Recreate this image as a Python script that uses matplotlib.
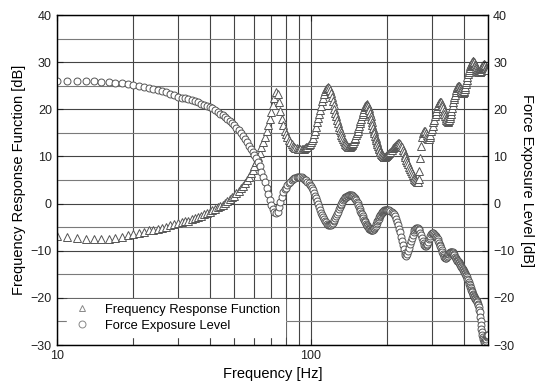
import numpy as np
import matplotlib
matplotlib.use("Agg")
import matplotlib.pyplot as plt
from matplotlib.ticker import LogLocator, NullFormatter, MultipleLocator, FixedLocator, FixedFormatter

plt.rcParams["font.family"] = ["Liberation Sans", "DejaVu Sans"]

# measurement grid: 1 Hz steps up to 200 Hz, 2 Hz steps above
freq = np.concatenate([np.arange(10, 201), np.arange(202, 501, 2)])

# frequency response function [dB]
frf_low = [  # 10 .. 100 Hz
    -6.9, -7.1, -7.3, -7.5, -7.6, -7.6, -7.5, -7.3, -7.0, -6.7,
    -6.4, -6.2, -6.0, -5.7, -5.5, -5.3, -5.1, -4.9, -4.6, -4.4,
    -4.2, -4.0, -3.8, -3.6, -3.3, -3.1, -2.8, -2.6, -2.3, -2.0,
    -1.7, -1.4, -1.1, -0.8, -0.5, -0.2, 0.2, 0.5, 0.9, 1.3,
    1.7, 2.2, 2.7, 3.2, 3.8, 4.4, 5.0, 5.7, 6.4, 7.2,
    8.0, 8.9, 9.8, 10.8, 11.9, 13.0, 14.2, 15.4, 16.7, 18.0,
    19.4, 20.9, 22.4, 23.6, 23.3, 21.5, 19.6, 18.0, 16.6, 15.5,
    14.8, 14.1, 13.5, 13.0, 12.6, 12.3, 12.0, 11.8, 11.7, 11.6,
    11.5, 11.5, 11.5, 11.5, 11.6, 11.7, 11.9, 12.1, 12.4, 12.7,
    13.1,
]
frf_mid = [  # 101 .. 200 Hz
    13.5, 14.0, 14.7, 15.5, 16.3, 17.2, 18.1, 19.0, 19.9, 20.8,
    21.7, 22.5, 23.2, 23.8, 24.3, 24.6, 24.7, 24.5, 24.1, 23.4,
    22.6, 21.8, 20.9, 20.1, 19.3, 18.5, 17.7, 17.0, 16.3, 15.7,
    15.1, 14.6, 14.1, 13.7, 13.3, 13.0, 12.7, 12.5, 12.3, 12.1,
    12.0, 12.0, 12.1, 12.2, 12.4, 12.6, 12.9, 13.2, 13.6, 14.0,
    14.5, 15.0, 15.5, 16.0, 16.5, 17.0, 17.5, 18.0, 18.5, 19.0,
    19.5, 20.0, 20.4, 20.8, 21.0, 21.1, 21.0, 20.7, 20.3, 19.8,
    19.2, 18.6, 17.9, 17.3, 16.6, 16.0, 15.4, 14.9, 14.4, 13.9,
    13.4, 13.0, 12.6, 12.2, 11.8, 11.5, 11.2, 10.9, 10.6, 10.4,
    10.2, 10.1, 10.0, 9.9, 9.9, 9.9, 10.0, 10.1, 10.2, 10.4,
]
frf_high = [  # 202 .. 500 Hz
    10.5, 10.7, 11.0, 11.3, 11.7, 12.0, 12.3, 12.5, 12.7, 12.8,
    12.8, 12.6, 12.3, 11.9, 11.4, 10.9, 10.3, 9.8, 9.3, 8.8,
    8.3, 7.8, 7.4, 6.9, 6.4, 6.0, 5.6, 5.2, 5.0, 4.8,
    4.6, 4.6, 5.3, 7.0, 9.6, 12.3, 14.2, 15.0, 15.2, 15.5,
    15.4, 15.0, 14.5, 14.0, 13.8, 13.8, 14.1, 14.6, 15.3, 15.9,
    16.5, 17.2, 17.8, 18.5, 19.1, 19.7, 20.2, 20.6, 21.0, 21.3,
    21.5, 21.6, 21.5, 21.2, 20.7, 20.2, 19.6, 19.0, 18.5, 18.1,
    17.7, 17.5, 17.4, 17.5, 17.7, 18.1, 18.6, 19.1, 19.7, 20.3,
    20.9, 21.5, 22.1, 22.6, 23.1, 23.6, 24.1, 24.5, 24.7, 24.9,
    25.0, 25.0, 24.8, 24.5, 24.2, 23.9, 23.7, 23.5, 23.5, 23.6,
    23.9, 24.3, 24.8, 25.3, 25.8, 26.3, 26.9, 27.4, 27.9, 28.3,
    28.8, 29.2, 29.4, 29.7, 29.9, 30.1, 30.2, 30.2, 30.1, 30.0,
    29.7, 29.4, 29.1, 28.8, 28.5, 28.2, 28.1, 28.0, 27.9, 27.9,
    27.9, 28.0, 28.2, 28.5, 28.7, 29.0, 29.2, 29.4, 29.5, 29.6,
    29.6, 29.5, 29.3, 29.0, 28.8, 28.6, 28.5, 28.4, 28.4, 28.4,
]

# force exposure level [dB]
fel_low = [  # 10 .. 100 Hz
    26.1, 26.0, 26.0, 25.9, 25.9, 25.8, 25.7, 25.6, 25.5, 25.3,
    25.2, 25.0, 24.8, 24.6, 24.4, 24.1, 23.8, 23.6, 23.3, 23.0,
    22.7, 22.5, 22.3, 22.1, 21.9, 21.7, 21.5, 21.2, 21.0, 20.8,
    20.5, 20.2, 19.9, 19.5, 19.1, 18.7, 18.3, 17.9, 17.5, 17.1,
    16.6, 16.1, 15.6, 15.0, 14.4, 13.7, 13.0, 12.3, 11.6, 10.9,
    10.2, 9.6, 8.9, 7.9, 6.8, 5.7, 4.6, 3.3, 2.0, 0.8,
    -0.3, -1.2, -1.8, -2.1, -1.8, -0.8, 0.4, 1.5, 2.4, 3.0,
    3.4, 3.9, 4.3, 4.6, 4.9, 5.2, 5.4, 5.5, 5.6, 5.7,
    5.7, 5.7, 5.6, 5.5, 5.3, 5.1, 4.9, 4.6, 4.3, 4.0,
    3.7,
]
fel_mid = [  # 101 .. 200 Hz
    3.3, 2.8, 2.3, 1.7, 1.1, 0.5, -0.1, -0.7, -1.3, -1.9,
    -2.4, -2.9, -3.3, -3.7, -4.0, -4.3, -4.5, -4.6, -4.6, -4.5,
    -4.3, -4.1, -3.8, -3.4, -3.0, -2.6, -2.2, -1.7, -1.2, -0.8,
    -0.4, 0.0, 0.4, 0.7, 1.0, 1.2, 1.4, 1.5, 1.6, 1.7,
    1.8, 1.8, 1.8, 1.8, 1.8, 1.7, 1.6, 1.4, 1.2, 1.0,
    0.7, 0.4, 0.1, -0.3, -0.7, -1.1, -1.5, -1.9, -2.3, -2.7,
    -3.1, -3.4, -3.7, -4.0, -4.3, -4.6, -4.8, -5.0, -5.2, -5.3,
    -5.4, -5.5, -5.6, -5.6, -5.6, -5.5, -5.4, -5.2, -5.0, -4.7,
    -4.4, -4.1, -3.8, -3.5, -3.2, -2.9, -2.6, -2.4, -2.2, -2.0,
    -1.8, -1.7, -1.6, -1.5, -1.4, -1.4, -1.4, -1.4, -1.4, -1.4,
]
fel_high = [  # 202 .. 500 Hz
    -1.4, -1.4, -1.5, -1.7, -1.9, -2.3, -2.7, -3.3, -3.9, -4.6,
    -5.3, -6.1, -7.0, -7.9, -8.8, -9.7, -10.5, -11.0, -11.1, -10.7,
    -10.1, -9.4, -8.6, -7.9, -7.2, -6.6, -6.1, -5.7, -5.4, -5.2,
    -5.1, -5.1, -5.3, -5.7, -6.2, -6.7, -7.3, -7.9, -8.4, -8.8,
    -9.0, -9.0, -8.8, -8.5, -8.1, -7.6, -7.2, -6.8, -6.5, -6.3,
    -6.3, -6.3, -6.5, -6.6, -6.8, -7.1, -7.3, -7.6, -8.0, -8.3,
    -8.7, -9.1, -9.5, -9.9, -10.3, -10.7, -11.0, -11.3, -11.5, -11.6,
    -11.5, -11.4, -11.1, -10.8, -10.6, -10.4, -10.2, -10.2, -10.2, -10.2,
    -10.3, -10.5, -10.7, -11.0, -11.3, -11.5, -11.7, -11.9, -12.1, -12.2,
    -12.4, -12.6, -12.8, -13.0, -13.2, -13.4, -13.6, -13.9, -14.1, -14.3,
    -14.5, -14.7, -14.9, -15.1, -15.3, -15.6, -16.0, -16.3, -16.6, -17.0,
    -17.3, -17.6, -18.0, -18.3, -18.6, -18.8, -19.1, -19.4, -19.6, -19.8,
    -20.0, -20.2, -20.4, -20.5, -20.7, -20.9, -21.2, -21.5, -21.9, -22.5,
    -23.1, -24.0, -24.9, -25.7, -26.5, -27.2, -27.8, -28.3, -28.7, -29.0,
    -29.3, -29.4, -29.3, -29.1, -28.8, -28.4, -28.1, -27.9, -27.8, -27.8,
]

frf = np.array(frf_low + frf_mid + frf_high)
fel = np.array(fel_low + fel_mid + fel_high)

y_ticks = [-30, -20, -10, 0, 10, 20, 30, 40]

fig = plt.figure(figsize=(5.37, 3.83), dpi=100)
ax = fig.add_axes([0.1056, 0.0992, 0.8037, 0.8616])
ax2 = ax.twinx()

edge = "#555555"
ax.plot(freq, frf, ls="none", marker="^", ms=6, mfc="white", mec=edge, mew=0.7,
        label="Frequency Response Function")
ax2.plot(freq, fel, ls="none", marker="o", ms=5, mfc="white", mec=edge, mew=0.7,
         label="Force Exposure Level")

for a in (ax, ax2):
    a.set_xscale("log")
    a.set_xlim(10, 500)
    a.set_ylim(-30, 40)
    a.yaxis.set_major_locator(FixedLocator(y_ticks))
    a.yaxis.set_minor_locator(MultipleLocator(5))
    a.tick_params(which="both", direction="in", labelsize=9, colors="#222222")
    a.tick_params(which="major", length=4, width=0.8)
    a.tick_params(which="minor", length=0)

ax.xaxis.set_major_locator(FixedLocator([10, 100]))
ax.xaxis.set_major_formatter(FixedFormatter(["10", "100"]))
ax.xaxis.set_minor_locator(LogLocator(base=10, subs=np.arange(2, 10)))
ax.xaxis.set_minor_formatter(NullFormatter())
ax.tick_params(axis="x", which="both", top=True)

ax.grid(which="major", color="#444444", lw=0.8)
ax.grid(which="minor", axis="x", color="#444444", lw=0.8)
ax.grid(which="minor", axis="y", color="#7a7a7a", lw=0.8)
ax.set_axisbelow(True)

for s in ax.spines.values():
    s.set_linewidth(1.0)
    s.set_color("#222222")

ax.set_xlabel("Frequency [Hz]", fontsize=10.5, labelpad=4)
ax.set_ylabel("Frequency Response Function [dB]", fontsize=10.5, labelpad=3)
ax2.set_ylabel("Force Exposure Level [dB]", fontsize=10.5, rotation=270, labelpad=14)

h1, l1 = ax.get_legend_handles_labels()
h2, l2 = ax2.get_legend_handles_labels()
leg = ax2.legend(h1 + h2, l1 + l2, loc="lower left", bbox_to_anchor=(0.01, 0.005),
                 fontsize=9.3, frameon=True, fancybox=False, framealpha=1,
                 edgecolor="white", handletextpad=1.0, borderpad=0.4,
                 labelspacing=0.3, handlelength=1.5)
for h in leg.legend_handles:
    h.set_markeredgecolor("#888888")
    h.set_markersize(5)

fig.savefig("out.png", dpi=100)
